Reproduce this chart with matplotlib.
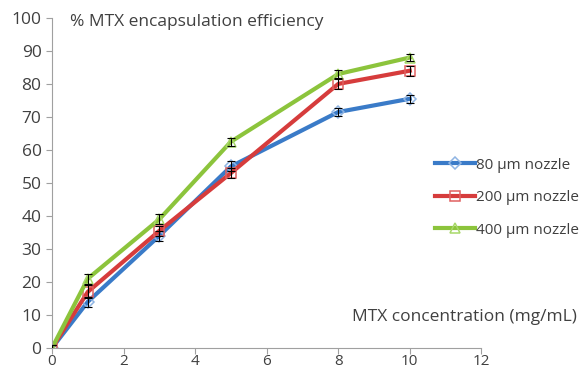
import matplotlib
matplotlib.use("Agg")
import matplotlib.pyplot as plt

plt.rcParams["font.family"] = ["Open Sans", "DejaVu Sans"]

conc = [0, 1, 3, 5, 8, 10]
ee_80 = [0, 14, 34, 55, 71.5, 75.5]
ee_200 = [0, 17, 35.5, 53, 80, 84]
ee_400 = [0, 21, 39, 62.5, 83, 88]
err_80 = [0.8, 1.5, 1.5, 1.5, 1.2, 1.2]
err_200 = [0.8, 2, 1.5, 1.5, 1.5, 1.5]
err_400 = [0.8, 1.5, 1.5, 1.2, 1.2, 1.2]

txt = "#404040"
fig = plt.figure(figsize=(5.81, 3.73), dpi=100)
ax = fig.add_axes([0.0895, 0.067, 0.739, 0.885])

series = [
    (ee_80, err_80, "#3a7bc8", "#8fb4e3", "D", "80 µm nozzle"),
    (ee_200, err_200, "#d63c3c", "#e06060", "s", "200 µm nozzle"),
    (ee_400, err_400, "#8cc43c", "#a8d86a", "^", "400 µm nozzle"),
]
for y, e, col, mcol, mk, lab in series:
    ax.errorbar(conc, y, yerr=e, fmt="none", ecolor="black", elinewidth=0.8,
                capsize=3, capthick=0.8, zorder=3)
    ax.plot(conc, y, color=col, lw=3, marker=mk, markersize=6.5,
            markerfacecolor="none", markeredgecolor=mcol, markeredgewidth=1.1,
            label=lab, zorder=2)

ax.set_xlim(0, 12)
ax.set_ylim(0, 100)
ax.set_xticks(range(0, 13, 2))
ax.set_yticks(range(0, 101, 10))
for s in ["top", "right"]:
    ax.spines[s].set_visible(False)
for s in ["left", "bottom"]:
    ax.spines[s].set_color("#a0a0a0")
ax.tick_params(colors="#a0a0a0", labelcolor=txt, labelsize=12.5, length=4)
ax.tick_params(axis="x", labelsize=11, pad=0.5)

fig.text(0.12, 0.94, "% MTX encapsulation efficiency", fontsize=12.5,
         color=txt, va="center")
fig.text(0.993, 0.15, "MTX concentration (mg/mL)", fontsize=12.5,
         color=txt, ha="right", va="center")

fig.legend(loc="center left", bbox_to_anchor=(0.725, 0.47), frameon=False,
           fontsize=11, labelspacing=1.15, handlelength=2.6, handletextpad=0.1,
           labelcolor=txt)

fig.savefig("out.png", dpi=100)
